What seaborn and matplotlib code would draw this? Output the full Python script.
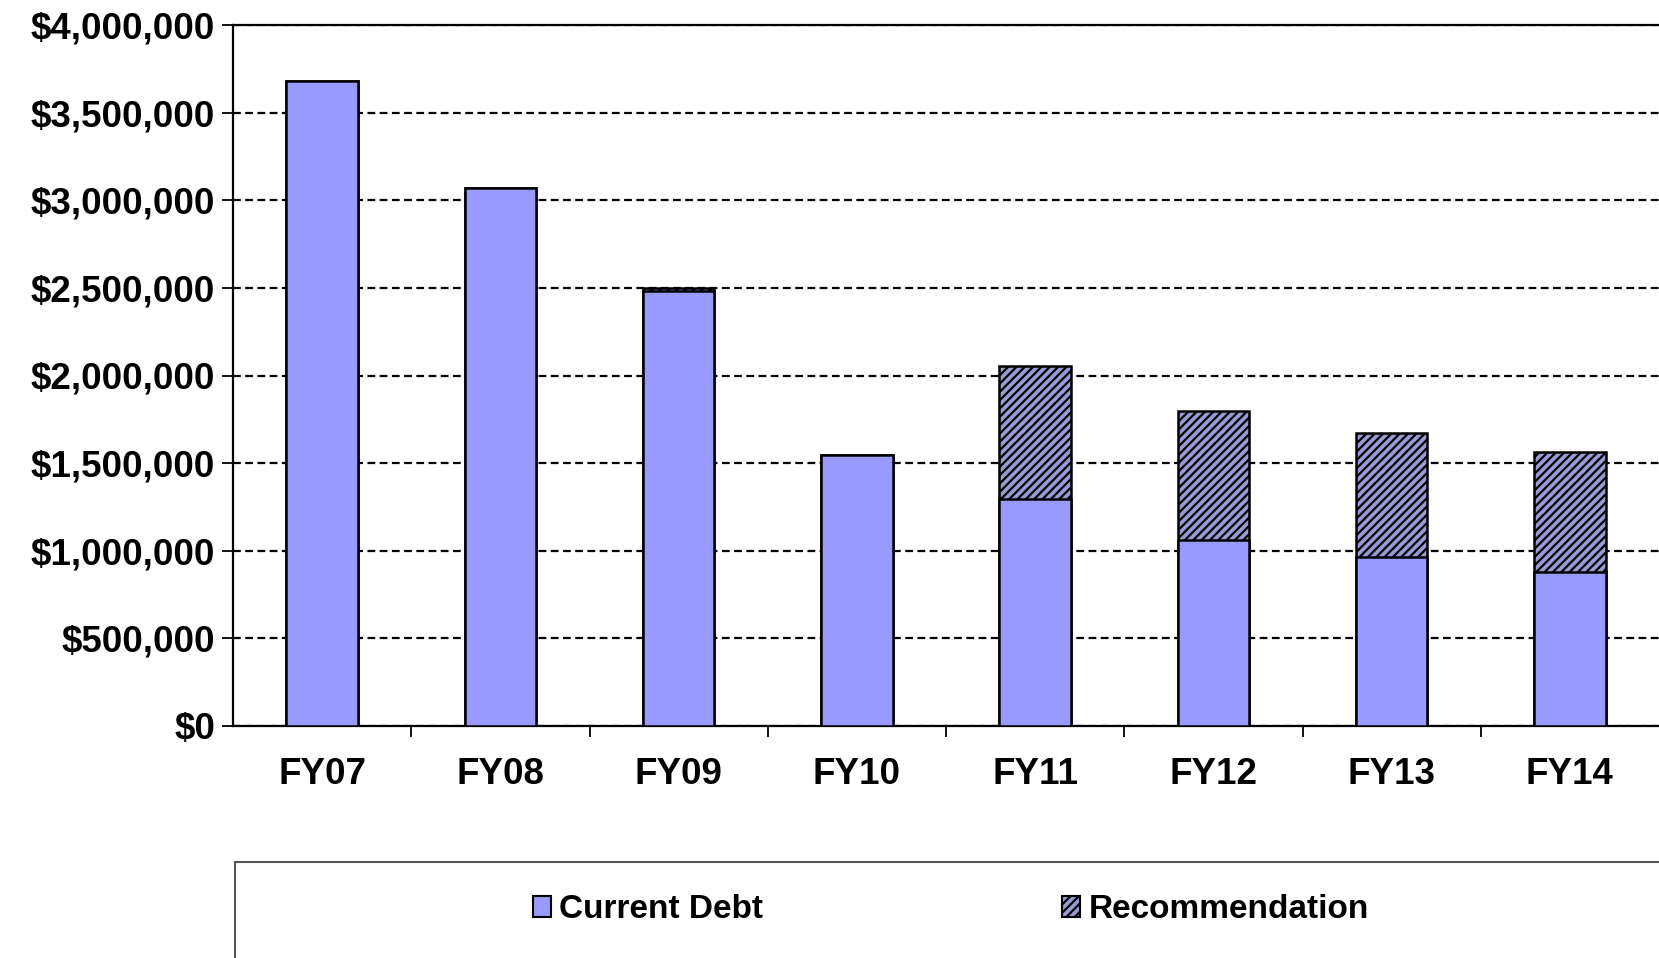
import matplotlib.pyplot as plt
import matplotlib.ticker as mticker
from matplotlib.patches import Rectangle, Patch
import seaborn as sns
import pandas as pd

# values
years = ["FY07", "FY08", "FY09", "FY10", "FY11", "FY12", "FY13", "FY14"]
current_debt = [3680000, 3070000, 2485000, 1547000, 1297000, 1062000, 966000, 881000]
recommendation = [0, 0, 15000, 0, 758000, 736000, 706000, 681000]

debt_color = "#9999ff"
rec_color = "#9a9ad6"

sns.set_style("white")
plt.rcParams["font.family"] = ["Liberation Sans", "DejaVu Sans"]
plt.rcParams["font.weight"] = "bold"
plt.rcParams["text.color"] = "black"
plt.rcParams["xtick.color"] = "black"
plt.rcParams["ytick.color"] = "black"
plt.rcParams["hatch.linewidth"] = 1.6
plt.rcParams["hatch.color"] = "black"

df = pd.DataFrame({"year": years, "current": current_debt, "rec": recommendation})
df["total"] = df["current"] + df["rec"]

fig = plt.figure(figsize=(16.59, 9.58), dpi=100)
ax = fig.add_axes([233 / 1659, 1 - 726 / 958, 1 - 233 / 1659, (726 - 25) / 958])

# total bar (hatched) behind, current debt drawn over it
sns.barplot(data=df, x="year", y="total", color=rec_color, width=0.4, saturation=1,
            edgecolor="black", linewidth=1.8, hatch="////", ax=ax, zorder=2)
sns.barplot(data=df, x="year", y="current", color=debt_color, width=0.4, saturation=1,
            edgecolor="black", linewidth=1.8, ax=ax, zorder=3)

ax.set_ylim(0, 4000000)
ax.set_xlim(-0.5, len(years) - 0.5)
ax.set_yticks(range(0, 4000001, 500000))
ax.yaxis.set_major_formatter(mticker.StrMethodFormatter("${x:,.0f}"))
ax.set_xlabel("")
ax.set_ylabel("")

ax.yaxis.grid(True, color="black", linestyle=(0, (3.5, 2)), linewidth=1.6, zorder=1)
ax.set_axisbelow(True)
for s in ["left", "top", "bottom"]:
    ax.spines[s].set_visible(True)
    ax.spines[s].set_color("black")
    ax.spines[s].set_linewidth(1.6)
ax.spines["right"].set_visible(False)

ax.tick_params(axis="y", which="major", direction="out", length=8, width=1.3,
               color="black", left=True, labelsize=26.5, pad=5, labelcolor="black")
ax.tick_params(axis="x", which="major", length=0, labelsize=26.5, pad=22, labelcolor="black")
ax.set_xticks([i + 0.5 for i in range(len(years) - 1)], minor=True)
ax.tick_params(axis="x", which="minor", direction="out", length=8, width=1.3,
               color="black", bottom=True)
for lab in ax.get_xticklabels() + ax.get_yticklabels():
    lab.set_fontweight("bold")

# legend frame running off the page like the reference
fig.patches.append(Rectangle((235 / 1659, -0.05), 1.0, 0.05 + 1 - 862 / 958,
                             transform=fig.transFigure, fill=False,
                             edgecolor="#555555", linewidth=1.5))
handles = [Patch(facecolor=debt_color, edgecolor="black", linewidth=1.5),
           Patch(facecolor=rec_color, edgecolor="black", linewidth=1.5, hatch="////")]
fig.legend(handles, ["Current Debt", "Recommendation"], loc="center left",
           bbox_to_anchor=(516 / 1659, 1 - 910 / 958), ncol=2, frameon=False,
           prop={"size": 24, "weight": "bold"}, handlelength=0.55, handleheight=0.6,
           handletextpad=0.25, columnspacing=8.95, borderpad=0, labelcolor="black")

fig.savefig("out.png", dpi=100)
